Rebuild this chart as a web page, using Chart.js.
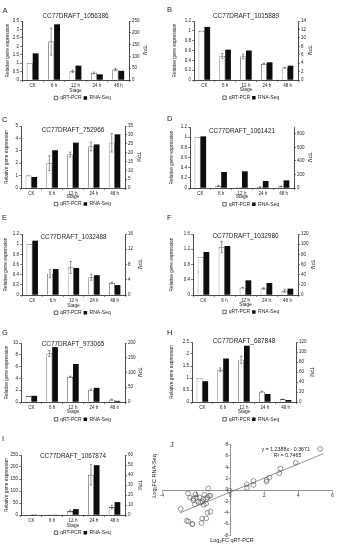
<!DOCTYPE html>
<html><head><meta charset="utf-8">
<script src="https://cdn.jsdelivr.net/npm/chart.js@4.4.1/dist/chart.umd.min.js"></script>
<style>
html,body{margin:0;padding:0;background:#fff;}
#fig{position:relative;width:337px;height:550px;overflow:hidden;font-family:"Liberation Sans",Arial,sans-serif;color:#222;}
canvas{position:absolute;}
.lbl{position:absolute;white-space:nowrap;line-height:1;}
</style></head><body><div id="fig"></div>
<script>
// ---------------- DATA ----------------
const stages = ['CK', '6 h', '12 h', '24 h', '48 h'];
const seriesNames = ['qRT-PCR', 'RNA-Seq'];
const panelLetters = ['A', 'B', 'C', 'D', 'E', 'F', 'G', 'H', 'I', 'J'];
const geneNames = ['CC77DRAFT_1056386', 'CC77DRAFT_1015889', 'CC77DRAFT_752966', 'CC77DRAFT_1061421',
  'CC77DRAFT_1032488', 'CC77DRAFT_1032980', 'CC77DRAFT_973065', 'CC77DRAFT_687848', 'CC77DRAFT_1067874'];

const qpcrA = [1, 2.28, 0.52, 0.42, 0.62];   const errA = [0, 0.8, 0.07, 0.05, 0.07];   const rnaA = [113, 236, 61, 24, 39];
const qpcrB = [1, 0.49, 0.48, 0.33, 0.25];   const errB = [0, 0.05, 0.05, 0.01, 0.01];  const rnaB = [12.6, 7.2, 7.0, 4.2, 3.4];
const qpcrC = [1, 2.0, 2.7, 3.35, 3.65];     const errC = [0, 0.6, 0.2, 0.35, 0.75];    const rnaC = [6.2, 21.3, 25.6, 24.6, 30.3];
const qpcrD = [1, 0.04, 0.02, 0.02, 0.03];   const errD = [0, 0.01, 0, 0.005, 0.01];    const rnaD = [762, 236, 246, 103, 113];
const qpcrE = [1, 0.42, 0.54, 0.35, 0.24];   const errE = [0, 0.08, 0.12, 0.06, 0.01];  const rnaE = [14.25, 6.8, 7.1, 5.2, 2.6];
const qpcrF = [1, 1.26, 0.19, 0.17, 0.11];   const errF = [0, 0.15, 0.01, 0.02, 0.04];  const rnaF = [84.6, 96.4, 28.9, 23.6, 12.5];
const qpcrG = [1, 8.2, 4.27, 2.08, 0.39];    const errG = [0, 0.5, 0.1, 0.1, 0.1];      const rnaG = [21, 186, 129, 48, 4];
const qpcrH = [1, 1.34, 1.76, 0.43, 0.11];   const errH = [0, 0.08, 0.15, 0.02, 0.01];  const rnaH = [41.6, 87, 112.6, 16, 4];
const qpcrI = [1, 0.5, 16.5, 167.6, 33];     const errI = [0, 0, 4, 42, 8];             const rnaI = [0.5, 0.1, 5.9, 49.8, 12.9];

const leftAxisMax  = [3.5, 1.2, 5, 1.2, 1.2, 1.6, 10, 2.5, 250];
const leftAxisStep = [0.5, 0.2, 1, 0.2, 0.2, 0.2, 2, 0.5, 50];
const rightAxisMax  = [250, 14, 35, 900, 16, 120, 200, 120, 60];
const rightAxisStep = [50, 2, 5, 100, 2, 20, 50, 20, 10];

// Panel J: log2 fold changes
const scatterQpcr = [-2.90,-2.47,-2.55,-2.45,-2.22,-2.35,-2.16,-2.16,-2.04,-2.08,-1.98,-1.87,-1.79,-1.74,-1.64,-1.55,-1.58,-1.52,-1.41,-1.33,-1.24,-1.16,-1.29,-1.41,-1.64,-1.41,-1.33,-1.16,-1.68,-2.22,-0.03,0.98,0.98,1.37,1.37,2.14,2.14,2.30,2.88,2.95,3.85,5.28];
const scatterRna  = [-3.3,-0.58,-5.4,-5.5,-6.0,-1.33,-1.5,-1.8,-0.75,-2.5,-1.3,-2.1,-1.3,-2.2,-2.0,-2.6,-1.6,-0.8,-1.6,-1.3,-1.0,-1.0,0.25,-2.4,-5.0,-5.0,-4.0,-3.8,-5.8,-6.0,-0.1,1.0,0.4,1.6,0.9,1.5,1.8,2.2,2.96,3.8,4.8,7.25];
const trendX = [-2.95, 5.45];
const trendY = [-4.02, 6.38];
const equationText = 'y = 1.2388x - 0.3671';
const r2Text = 'R\u00b2 = 0.7465';

const qpcrSets = [qpcrA, qpcrB, qpcrC, qpcrD, qpcrE, qpcrF, qpcrG, qpcrH, qpcrI];
const errSets  = [errA, errB, errC, errD, errE, errF, errG, errH, errI];
const rnaSets  = [rnaA, rnaB, rnaC, rnaD, rnaE, rnaF, rnaG, rnaH, rnaI];

// ---------------- LAYOUT (pixel geometry only) ----------------
const layouts = [
 {x:0,  y:0,  w:165,h:110, L:22, R:129,T:21, B:80,  lt:8,   rt:144, st:91,    lg:98,    tt:16},
 {x:165,y:0,  w:172,h:110, L:194,R:298,T:21, B:80,  lt:175, rt:309, st:90,    lg:97.7,  tt:15.7},
 {x:0,  y:110,w:165,h:110, L:21, R:125,T:126,B:188, lt:7,   rt:138, st:198,   lg:204,   tt:130},
 {x:165,y:110,w:172,h:110, L:190,R:294,T:127,B:188, lt:172, rt:309, st:198,   lg:204.3, tt:130.7},
 {x:0,  y:220,w:165,h:110, L:22, R:125,T:234,B:295, lt:6,   rt:139, st:306,   lg:312.7, tt:236.7},
 {x:165,y:220,w:172,h:110, L:193,R:298,T:234,B:295, lt:172, rt:312, st:306,   lg:312,   tt:235.7},
 {x:0,  y:330,w:165,h:110, L:21, R:125,T:343,B:402, lt:7,   rt:139, st:412.3, lg:419.3, tt:344},
 {x:165,y:330,w:172,h:110, L:192,R:296,T:342,B:402, lt:172, rt:311, st:412.7, lg:419.3, tt:340.7},
 {x:0,  y:440,w:165,h:110, L:21, R:125,T:455,B:515, lt:7,   rt:139, st:525.7, lg:532.7, tt:455.7}
];
const letterPos = [[2.5,10],[167,9.5],[2,119],[167,118.5],[2,217],[167,217],[2,332],[167,332.5],[2,438],[170,444]];

const FONT = '"Liberation Sans", Arial, sans-serif';
Chart.defaults.font.family = FONT;
Chart.defaults.color = '#222';
Chart.defaults.animation = false;

const fig = document.getElementById('fig');
function addText(txt, left, top, size, extra) {
  const d = document.createElement('div');
  d.className = 'lbl';
  d.innerHTML = txt;
  d.style.left = left + 'px';
  d.style.top = top + 'px';
  d.style.fontSize = size + 'px';
  if (extra) Object.assign(d.style, extra);
  fig.appendChild(d);
  return d;
}
function addCanvas(x, y, w, h) {
  const c = document.createElement('canvas');
  c.width = w; c.height = h;
  c.style.left = x + 'px'; c.style.top = y + 'px';
  c.style.width = w + 'px'; c.style.height = h + 'px';
  fig.appendChild(c);
  return c;
}

const errorBarPlugin = {
  id: 'errorBars',
  afterDatasetsDraw(chart) {
    const ds = chart.data.datasets[0];
    if (!ds.errors) return;
    const meta = chart.getDatasetMeta(0);
    const ys = chart.scales.y;
    const ctx = chart.ctx;
    ctx.save();
    ctx.strokeStyle = '#333';
    ctx.lineWidth = 0.5;
    meta.data.forEach((bar, i) => {
      const v = ds.data[i], e = ds.errors[i];
      if (!e) return;
      const yt = ys.getPixelForValue(v + e);
      const yb = ys.getPixelForValue(Math.max(0, v - e));
      ctx.beginPath();
      ctx.moveTo(bar.x, yt); ctx.lineTo(bar.x, yb);
      ctx.moveTo(bar.x - 1.2, yt); ctx.lineTo(bar.x + 1.2, yt);
      ctx.moveTo(bar.x - 1.2, yb); ctx.lineTo(bar.x + 1.2, yb);
      ctx.stroke();
    });
    ctx.restore();
  }
};

const fmt = v => String(+Number(v).toFixed(4));
const TICK = 4.5, ATITLE = 4.8, LEG = 5;
const halfLH = ATITLE * 1.2 / 2;

layouts.forEach((g, p) => {
  const cv = addCanvas(g.x, g.y, g.w, g.h);
  const legendTop = g.lg - 4.5;
  const padBottom = (g.y + g.h) - (legendTop + 10);
  const xAxisH = legendTop - g.B;
  const leftW = g.L - g.x, rightW = g.x + g.w - g.R;
  const ltPad = g.lt - g.x - halfLH;
  const rtPad = g.x + g.w - g.rt - halfLH;
  const stPad = Math.max(0, legendTop - g.st - halfLH);
  const axisCommon = {
    grid: {drawOnChartArea: false, tickLength: 2, color: '#000', lineWidth: 0.5},
    border: {color: '#000', width: 0.7}
  };
  new Chart(cv, {
    type: 'bar',
    data: {
      labels: stages,
      datasets: [
        {label: seriesNames[0], data: qpcrSets[p], errors: errSets[p], yAxisID: 'y',
         backgroundColor: '#ffffff', borderColor: '#000', borderWidth: 0.6,
         categoryPercentage: 0.55, barPercentage: 1},
        {label: seriesNames[1], data: rnaSets[p], yAxisID: 'y1',
         backgroundColor: '#0d0d0d', borderColor: '#0d0d0d', borderWidth: 0,
         categoryPercentage: 0.55, barPercentage: 1}
      ]
    },
    plugins: [errorBarPlugin],
    options: {
      responsive: false,
      devicePixelRatio: 1,
      layout: {padding: {top: g.T - g.y, left: 0, right: 0, bottom: padBottom}},
      plugins: {
        tooltip: {enabled: false},
        legend: {position: 'bottom', maxHeight: 10,
          labels: {boxWidth: 3.5, boxHeight: 3.5, padding: 2, font: {size: LEG}, color: '#222'}}
      },
      scales: {
        x: Object.assign({}, axisCommon, {
          ticks: {font: {size: TICK}, padding: 1, color: '#222'},
          title: {display: true, text: 'Stage', font: {size: ATITLE}, padding: {top: 0, bottom: stPad}, color: '#222'},
          afterFit: s => { s.height = xAxisH; }
        }),
        y: Object.assign({}, axisCommon, {
          position: 'left', min: 0, max: leftAxisMax[p],
          ticks: {stepSize: leftAxisStep[p], font: {size: TICK}, padding: 1, callback: fmt, color: '#222'},
          title: {display: true, text: 'Relative gene expression', font: {size: ATITLE}, padding: {top: ltPad, bottom: 0}, color: '#222'},
          afterFit: s => { s.width = leftW; }
        }),
        y1: Object.assign({}, axisCommon, {
          position: 'right', min: 0, max: rightAxisMax[p],
          ticks: {stepSize: rightAxisStep[p], font: {size: TICK}, padding: 1, callback: fmt, color: '#222'},
          title: {display: true, text: 'TPM', font: {size: ATITLE}, padding: {top: rtPad, bottom: 0}, color: '#222'},
          afterFit: s => { s.width = rightW; }
        })
      }
    }
  });
  const TS = 6.4;
  addText(geneNames[p], g.L, g.tt - TS / 2, TS, {width: (g.R - g.L) + 'px', textAlign: 'center'});
});

// ---------------- Panel J ----------------
(function () {
  const jx = 150, jy = 440, jw = 187, jh = 110;
  const cv = addCanvas(jx, jy, jw, jh);
  const pts = scatterQpcr.map((x, i) => ({x: x, y: scatterRna[i]}));
  const trend = trendX.map((x, i) => ({x: x, y: trendY[i]}));
  new Chart(cv, {
    type: 'scatter',
    data: {
      datasets: [
        {type: 'line', data: trend, borderColor: '#777', borderWidth: 0.8, pointRadius: 0, fill: false, order: 2},
        {data: pts, pointRadius: 2.4, pointBackgroundColor: 'rgba(255,255,255,0)', pointBorderColor: '#555',
         pointBorderWidth: 0.6, showLine: false, order: 1}
      ]
    },
    options: {
      responsive: false,
      devicePixelRatio: 1,
      layout: {padding: {left: 12, right: 4.5, top: 3.5, bottom: 14.5}},
      plugins: {legend: {display: false}, tooltip: {enabled: false}},
      scales: {
        x: {type: 'linear', position: {y: 0}, min: -4, max: 6,
            ticks: {stepSize: 2, font: {size: TICK}, padding: 1, color: '#222', callback: fmt},
            grid: {drawOnChartArea: false, tickLength: 2, color: '#666', lineWidth: 0.5},
            border: {color: '#666', width: 0.7}},
        y: {type: 'linear', position: {x: 0}, min: -8, max: 8,
            ticks: {stepSize: 2, font: {size: TICK}, padding: 1, color: '#222', callback: v => fmt(v) + '\u2002'},
            grid: {drawOnChartArea: false, tickLength: 2, color: '#666', lineWidth: 0.5},
            border: {color: '#666', width: 0.7}}
      }
    }
  });
  addText(equationText, 261.5, 447.3, 5.3);
  addText(r2Text, 273.5, 452.5, 5.3);
  addText('Log<sub style="font-size:70%;vertical-align:-1px">2</sub>FC qRT-PCR', 232, 541, 5.5, {transform: 'translate(-50%,-50%)'});
  addText('Log<sub style="font-size:70%;vertical-align:-1px">2</sub>FC RNA-Seq', 155, 476, 5.5, {transform: 'translate(-50%,-50%) rotate(-90deg)'});
})();

// panel letters
panelLetters.forEach((t, i) => {
  addText(t, letterPos[i][0], letterPos[i][1] - 3.5, 7.5);
});
</script></body></html>
